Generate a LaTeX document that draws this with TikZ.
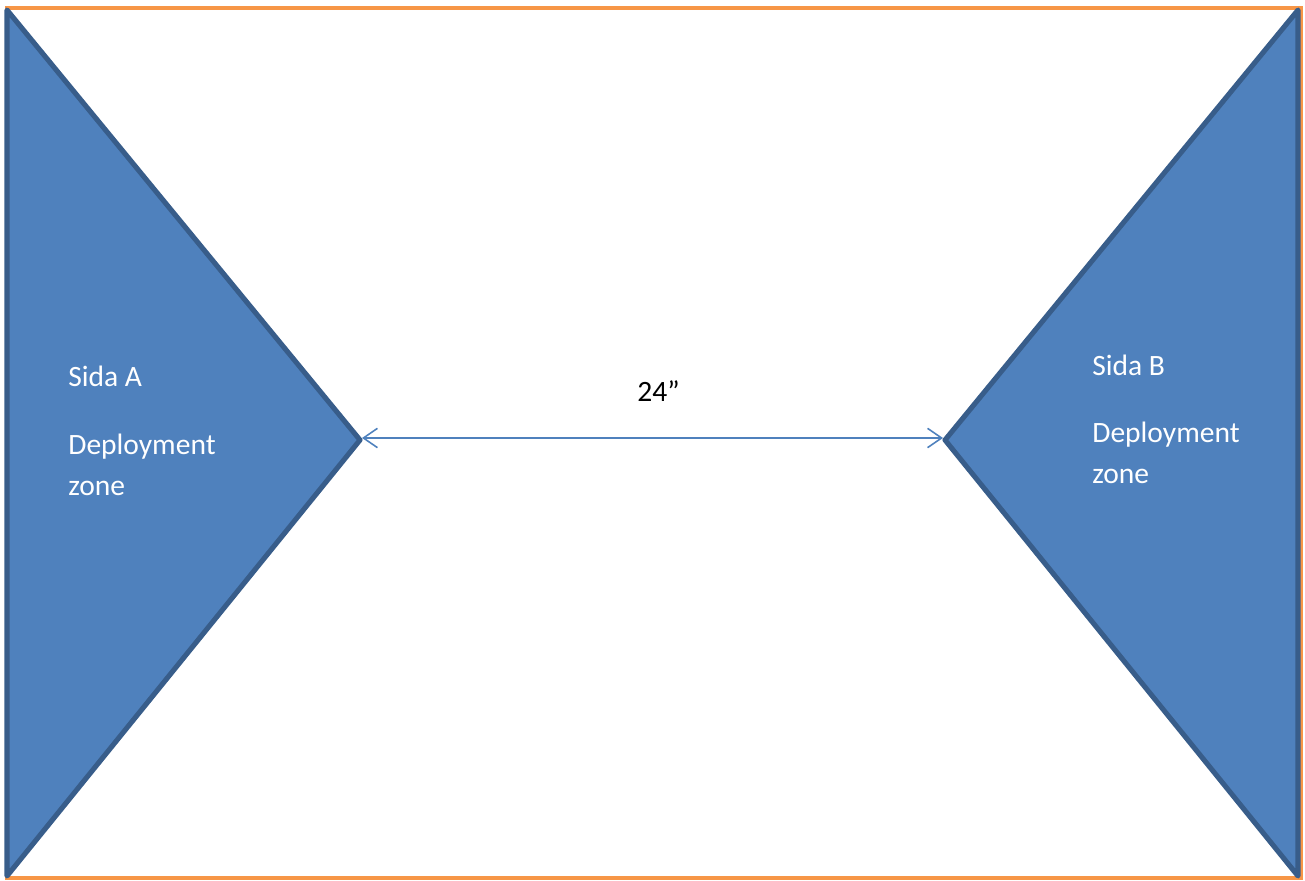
\documentclass[tikz,border=0pt]{standalone}
\usepackage{fontspec}
\setmainfont{Carlito}
\usetikzlibrary{arrows.meta}
\definecolor{zonefill}{RGB}{79,129,189}
\definecolor{zoneedge}{RGB}{56,93,138}
\definecolor{tableedge}{RGB}{247,150,70}

\begin{document}
\begin{tikzpicture}[
  x=0.02cm, y=-0.02cm,
  zone/.style={fill=zonefill, draw=zoneedge, line width=2.9pt, line join=round},
  lbl/.style={anchor=base west, inner sep=0pt, font=\fontsize{16.8}{20}\selectfont, text=white},
  meas/.style={{Straight Barb[length=8pt,width=11pt]}-{Straight Barb[length=8pt,width=11pt]},
    draw=zonefill, line width=0.9pt},
]
  \useasboundingbox (0,0) rectangle (1305,881);
  \draw[tableedge, line width=2.2pt] (7,8) rectangle (1301,878);

  % deployment zones
  \draw[zone] (7,10) -- (360,440) -- (7,876) -- cycle;
  \draw[zone] (1298,10) -- (945,440) -- (1298,876) -- cycle;

  \coordinate (tipA) at (362,438);
  \coordinate (tipB) at (943,438);
  \draw[meas] (tipA) -- (tipB);
  \node[anchor=base west, inner sep=0pt, font=\fontsize{16.8}{20}\selectfont] (dist) at (637,402) {24”};

  \node[lbl] (sideA) at (68,387) {Sida A};
  \node[lbl] (depA) at (68,455) {Deployment};
  \node[lbl] (zoneA) at (68,496) {zone};

  \node[lbl] (sideB) at (1092,376) {Sida B};
  \node[lbl] (depB) at (1092,443) {Deployment};
  \node[lbl] (zoneB) at (1092,484) {zone};
\end{tikzpicture}
\end{document}
